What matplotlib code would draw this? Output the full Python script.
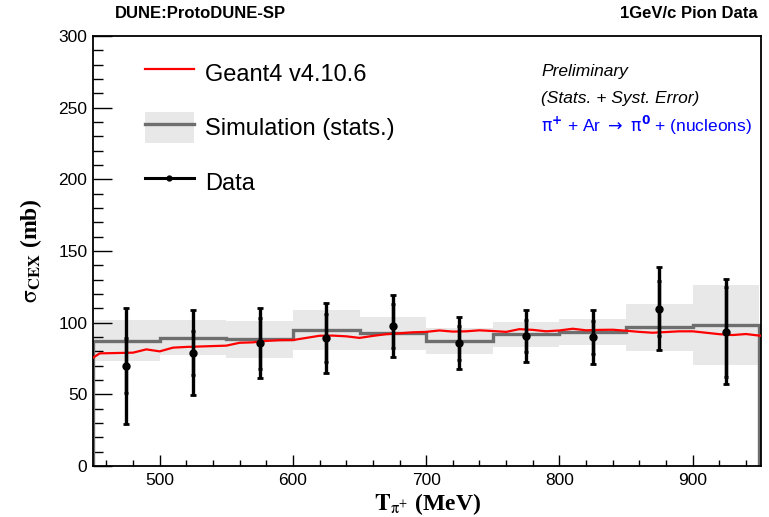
import numpy as np
import matplotlib
matplotlib.use("Agg")
import matplotlib.pyplot as plt
from matplotlib.lines import Line2D
from matplotlib.patches import Patch
from matplotlib.ticker import MultipleLocator

plt.rcParams['font.family'] = ['Liberation Sans', 'DejaVu Sans']
plt.rcParams['mathtext.fontset'] = 'custom'
plt.rcParams['mathtext.rm'] = 'Liberation Sans'
plt.rcParams['mathtext.it'] = 'Liberation Sans:italic'
plt.rcParams['mathtext.bf'] = 'Liberation Sans:bold'

# bins of the measurement (MeV)
bin_edges = [450, 500, 550, 600, 650, 700, 750, 800, 850, 900, 950]
bin_centers = [475, 525, 575, 625, 675, 725, 775, 825, 875, 925]

# data points (mb)
data_xs = [70.0, 79.0, 85.6, 89.1, 97.7, 85.6, 90.5, 90.0, 109.8, 93.7]
data_stat = [19.0, 15.3, 17.7, 16.7, 15.6, 11.8, 11.1, 11.5, 19.4, 31.3]
data_tot = [40.5, 29.7, 24.5, 24.4, 21.7, 18.1, 18.2, 18.9, 29.0, 36.6]

# MC simulation histogram
sim_xs = [87.5, 89.5, 88.4, 94.7, 92.6, 87.2, 92.1, 93.7, 96.8, 98.2]
sim_err = [14.5, 12.2, 13.0, 14.0, 11.7, 9.0, 8.7, 9.2, 16.3, 28.0]

# Geant4 prediction
g4_t = [450, 455, 460, 470, 480, 490, 500, 510, 520, 530, 540, 550, 560, 570,
        580, 590, 600, 610, 620, 630, 640, 650, 660, 670, 680, 690, 700, 710,
        720, 730, 740, 750, 760, 770, 780, 790, 800, 810, 820, 830, 840, 850,
        860, 870, 880, 890, 900, 910, 920, 930, 940, 950, 960]
g4_xs = [75.6, 78.6, 78.7, 78.9, 79.1, 81.4, 80.0, 82.6, 83.1, 83.4, 83.7, 84.0,
         86.0, 86.3, 87.3, 87.8, 87.9, 89.4, 90.9, 91.0, 90.5, 89.4, 90.8, 92.0,
         92.6, 93.3, 93.6, 94.6, 93.8, 94.0, 94.7, 94.2, 93.6, 95.5, 95.0, 94.0,
         94.6, 95.8, 94.7, 95.0, 95.1, 94.4, 93.6, 93.0, 93.5, 94.0, 94.0, 93.0,
         92.0, 91.4, 92.1, 91.0, 90.5]

fig = plt.figure(figsize=(7.69, 5.17), dpi=100)
ax = fig.add_axes([0.121, 0.0986, 0.869, 0.8316])

sim = np.array(sim_xs)
serr = np.array(sim_err)
ax.stairs(sim + serr, bin_edges, baseline=sim - serr, fill=True,
          color='#e8e8e8', lw=0, zorder=1)
ax.stairs(sim, bin_edges, baseline=0, color='#6e6e6e', lw=2.4, zorder=2)
ax.plot(g4_t, g4_xs, color='#ff0000', lw=1.6, zorder=3)

ax.errorbar(bin_centers, data_xs, yerr=data_tot, fmt='o', color='k', ms=5,
            lw=2.4, capsize=2.2, capthick=2, zorder=4)
ax.errorbar(bin_centers, data_xs, yerr=data_stat, fmt='none', color='k',
            lw=2.4, capsize=1.6, capthick=2, zorder=4)

ax.set_xlim(450, 951.5)
ax.set_ylim(0, 300)
ax.xaxis.set_major_locator(MultipleLocator(100))
ax.xaxis.set_minor_locator(MultipleLocator(20))
ax.yaxis.set_major_locator(MultipleLocator(50))
ax.yaxis.set_minor_locator(MultipleLocator(10))
ax.tick_params(axis='both', which='both', direction='in', top=False, right=False,
               labelsize=12.5, width=1)
ax.tick_params(axis='y', which='major', length=14, pad=4)
ax.tick_params(axis='y', which='minor', length=7)
ax.tick_params(axis='x', which='major', length=8, pad=5)
ax.tick_params(axis='x', which='minor', length=4.3)
for s in ax.spines.values():
    s.set_linewidth(1.3)

ax.set_ylabel(r'$\mathrm{\sigma}_{\mathbf{CEX}}$ (mb)', fontsize=17,
              fontfamily='Liberation Serif', fontweight='bold', math_fontfamily='stix')
ax.yaxis.set_label_coords(-0.073, 0.5)
ax.set_xlabel(r'$\mathbf{T}_{\mathrm{\pi}^{+}}$ (MeV)', fontsize=17,
              fontfamily='Liberation Serif', fontweight='bold', math_fontfamily='stix')
ax.xaxis.set_label_coords(0.5, -0.058)

handles = [Line2D([], [], color='#ff0000', lw=1.6),
           (Patch(facecolor='#e8e8e8', edgecolor='none'),
            Line2D([], [], color='#6e6e6e', lw=2.4)),
           Line2D([], [], color='k', lw=2.2, marker='o', ms=3.5)]
labels = ['Geant4 v4.10.6', 'Simulation (stats.)', 'Data']
ax.legend(handles, labels, loc='upper left', bbox_to_anchor=(0.078, 0.949),
          frameon=False, fontsize=17, borderpad=0, borderaxespad=0,
          handlelength=2.05, handleheight=1.6, handletextpad=0.5,
          labelspacing=1.02)

fig.text(115 / 769, 1 - 14 / 517, 'DUNE:ProtoDUNE-SP', fontsize=12,
         fontweight='bold', ha='left', va='center')
fig.text(758 / 769, 1 - 14 / 517, '1GeV/c Pion Data', fontsize=12,
         fontweight='bold', ha='right', va='center')

fig.text(541 / 769, 1 - 71 / 517, 'Preliminary', fontsize=12.5,
         style='italic', ha='left', va='center')
fig.text(541 / 769, 1 - 98 / 517, '(Stats. + Syst. Error)', fontsize=12.5,
         style='italic', ha='left', va='center')
fig.text(541 / 769, 1 - 125 / 517,
         r'$\mathrm{\pi}^{\mathbf{+}}$ + Ar $\mathrm{\rightarrow}$ $\mathrm{\pi}^{\mathbf{0}}$ + (nucleons)',
         fontsize=12.5, color='#0000ff', ha='left', va='center',
         math_fontfamily='dejavusans')

fig.savefig('out.png', dpi=100)
